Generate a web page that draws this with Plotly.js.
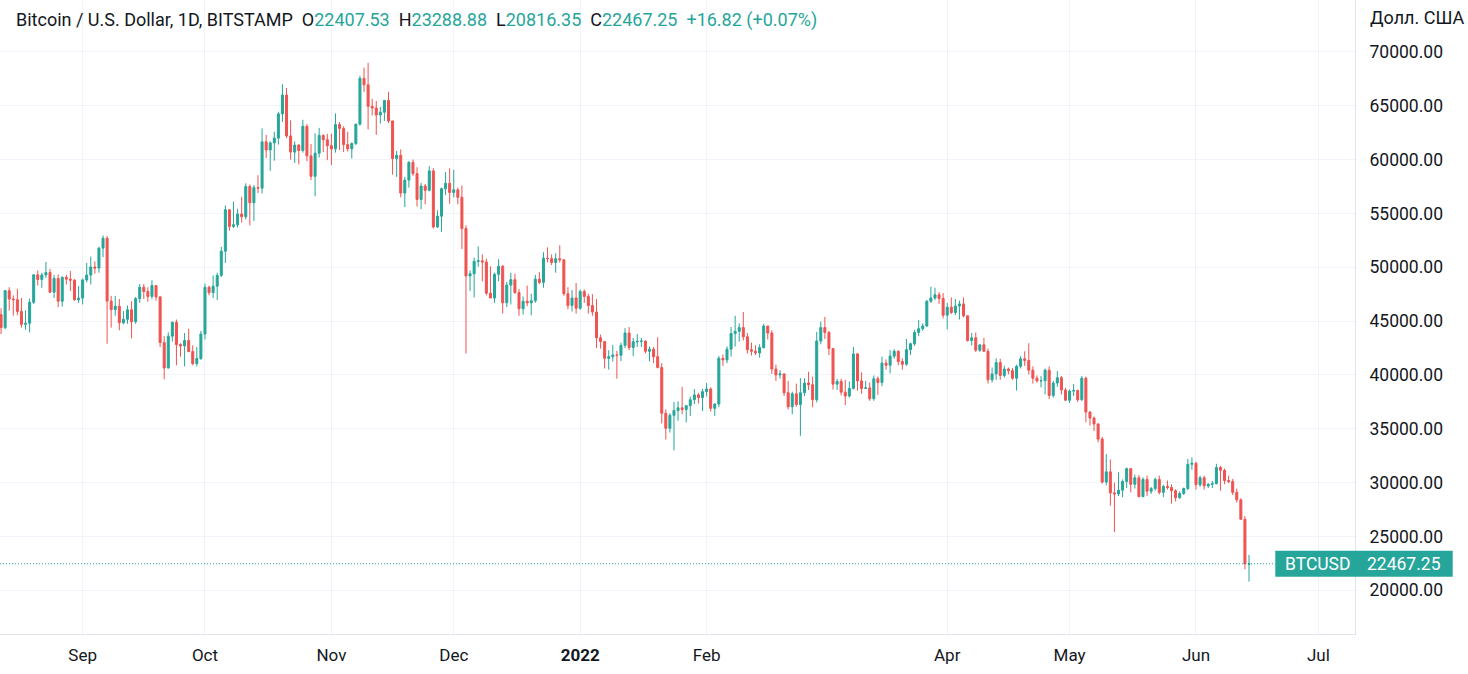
<!DOCTYPE html>
<html><head><meta charset="utf-8">
<script src="https://cdn.plot.ly/plotly-3.0.1.min.js"></script>
<style>html,body{margin:0;padding:0;background:#fff;overflow:hidden}</style>
</head><body>
<div id="chart" style="width:1468px;height:674px"></div>
<script>
// ---- data (BTC/USD daily, Bitstamp), 2021-08-12 .. 2022-06-14 ----
const startDate = '2021-08-12';
const open = [
// Aug
45600,44400,47830,47050,46990,45900,44700,44800,46750,49300,48870,49290,49520,47690,48960,46850,49070,48900,48810,46980,
// Sep
47140,48830,49280,50030,49930,51780,52700,46860,46070,46390,44850,45170,46050,44950,47090,48150,47750,47300,48300,47250,43010,40650,43600,44900,42820,42700,43200,42180,41050,41530,
// Oct
43800,48150,47650,48250,49250,51500,55350,53800,53950,54950,54700,57500,56000,57400,57350,61650,60900,61550,62000,64250,66000,62200,60700,61350,60850,63100,60350,58450,60600,62250,61850,
// Nov
61300,61000,63250,62900,61400,61000,61500,63300,67550,66950,64950,64800,64150,64400,65500,63600,60100,60400,56900,58100,59750,58700,56300,57550,57150,58950,53750,54750,57300,57800,
// Dec
56950,57200,56500,53600,49200,49400,50550,50600,50500,47600,47150,49350,50100,46700,48350,48850,47650,46150,46850,46700,46900,48900,48600,50850,50800,50450,50800,50700,47550,46450,47150,
// Jan
46200,47750,47300,46450,45850,43450,43100,41550,41700,41850,41830,42750,43900,42550,43080,43120,43150,42200,42400,41700,40700,36450,35050,36250,36700,36950,36800,37150,37700,38150,37900,
// Feb
38450,38700,36900,37300,41550,41400,42400,43850,44050,44400,43550,42350,42200,42050,42550,44550,43900,40550,40000,40100,38350,37050,38250,37250,38350,39250,39100,37700,
// Mar
43150,44400,43950,42450,39150,39400,38400,38050,38750,41950,39450,38750,38800,37800,39650,39300,41100,40900,41750,42200,41250,41000,42350,42900,43950,44300,44550,46850,47150,47450,47100,
// Apr
45550,46300,45800,46400,46600,45500,43200,43450,42300,42800,42200,39550,40100,41150,39950,40550,40400,39700,40800,41500,41350,40450,39700,39450,39470,40450,38100,39250,39750,38600,
// May
37650,38500,38550,37700,39700,36550,36000,35450,34050,30050,31000,29050,28950,29300,30100,31300,29850,30450,28700,30300,29200,29450,30300,29100,29650,29550,29250,28600,29000,29450,31700,
// Jun
31800,29800,30450,29700,29850,29900,31400,31150,30200,30100,29100,28400,26600,22407.53
];
const high = [
46200,47900,48150,47400,48000,47150,46000,47100,49350,49700,49500,50500,49850,49300,49350,49150,49300,49650,48900,48250,
48950,50400,51000,50550,51900,52950,52900,47350,47350,47050,45950,46450,46850,47250,48450,48450,48150,48800,48350,47350,43600,43950,44950,45150,42950,43900,44300,42750,42600,44100,
48500,48300,49250,49500,51900,55750,55350,56100,55450,56550,57800,57700,57650,58550,62900,62300,61700,62600,64450,67000,66650,63650,61700,61450,63700,63300,61450,62450,62950,62350,62400,
62400,64300,63500,63100,62600,61600,63300,67800,68550,69000,65650,65450,64900,65550,66300,63600,60800,60950,58400,59850,60000,59300,57850,57750,59400,59200,55300,57400,58850,59200,
59050,57400,57600,53900,49700,50900,51950,51200,50800,50100,49500,50750,50200,48650,49500,49400,48000,47300,48300,47550,49300,49550,51400,51850,51200,51300,52050,50700,48150,47900,48550,
47950,47950,47550,47500,47050,43750,43150,42300,42800,42250,43000,44350,44450,43450,43800,43450,43200,42650,42600,43500,41100,36800,36450,37500,37550,38900,37200,38000,38700,38350,38700,
39250,38850,37350,41750,41900,42650,44450,45500,44800,45850,43900,43000,42750,42850,44750,44550,44150,40950,40450,40150,39450,38450,39200,39700,39700,40300,39850,44000,
44950,45400,44100,42500,39650,39650,39550,39400,42600,42050,40250,39450,39300,39950,39850,41700,41450,42300,42400,42300,41550,43350,43000,44200,45100,44800,46950,48200,48100,47700,47600,
46700,47200,47050,46900,47200,45500,43900,43950,42800,43450,42450,40700,41550,41500,40850,40700,40650,40950,41750,42200,42950,40800,39950,39900,40600,40800,39450,40350,39900,38800,
38650,39150,38650,39900,39850,36650,36150,35500,34250,32650,32150,30000,30950,30300,31400,31300,30750,30700,30500,30650,29600,30450,30650,29800,30200,29850,29400,29200,29550,32200,32350,
31950,30650,30650,29950,30150,31750,31550,31300,30650,30350,29450,28550,26900,23288.88
];
const low = [
43800,44250,45970,45500,45550,44400,44200,43950,46600,48300,48100,49000,47600,47150,46300,46350,48400,47800,46900,46700,
46550,48600,48400,49400,49500,50950,42900,44400,45500,44150,44700,44750,43400,44750,46700,47050,46800,47050,46900,42600,39600,40600,43100,40900,41700,40800,42100,40900,40800,41400,
43300,47400,47150,46950,49100,50400,53400,53650,53700,54150,54450,53900,54300,56900,56850,60150,58950,59900,61400,63500,62000,60000,59700,59550,60650,59850,58100,56600,60200,60700,59950,
59500,60650,60900,60700,60750,60100,61350,63150,66300,62800,64100,62300,63350,63600,63400,58600,58400,56500,55600,57400,58500,55650,55400,55850,57050,53600,53650,53300,56700,55900,
56500,55850,51700,42000,47800,47200,50050,48700,47400,47300,46700,48700,45700,46300,46550,47550,45500,45600,46400,45550,46700,48450,48100,50450,50200,49500,50450,47350,46100,45900,45700,
46050,46700,45700,45500,42500,42450,40600,40500,41250,39650,41300,42500,42300,41750,42600,42600,42000,41250,41100,40600,35500,34000,34650,33000,35750,36350,35600,36200,37300,37350,36650,
38000,36600,36200,37000,40850,41100,41700,42650,43100,43200,42000,41800,41850,41600,42450,43300,40100,39450,39650,38050,36800,36350,37050,34350,38050,38600,37000,37450,
42850,43350,41850,38650,38600,38100,37200,37900,38650,38550,38250,38700,37600,37600,38150,38950,40500,40150,41500,40900,40500,40850,41850,42700,43600,44100,44450,46700,46950,46600,45250,
44250,45650,45550,45150,45350,43100,42750,42150,42150,42150,39200,39300,39550,39550,39750,40050,39550,38550,40600,40850,40050,39200,39300,38850,38200,37750,37900,38900,38200,37600,
37400,38050,37500,37600,35600,35300,34800,33750,29900,29750,27850,25400,28750,28650,29500,29100,29450,28650,28650,28750,28950,29250,28900,28650,29350,28050,28250,28500,28850,29300,31200,
29350,29600,29350,29500,29500,29850,29250,29850,29950,28850,28150,26550,21950,20816.35
];
const close = [
44400,47830,47050,46990,45900,44700,44800,46750,49300,48870,49290,49520,47690,48960,46850,49070,48900,48810,46980,47140,
48830,49280,50030,49930,51780,52700,46860,46070,46390,44850,45170,46050,44950,47090,48150,47750,47300,48300,47250,43010,40650,43600,44900,42820,42700,43200,42180,41050,41530,43800,
48150,47650,48250,49250,51500,55350,53800,53950,54950,54700,57500,56000,57400,57350,61650,60900,61550,62000,64250,66000,62200,60700,61350,60850,63100,60350,58450,60600,62250,61850,61300,
61000,63250,62900,61400,61000,61500,63300,67550,66950,64950,64800,64150,64400,65500,63600,60100,60400,56900,58100,59750,58700,56300,57550,57150,58950,53750,54750,57300,57800,56950,
57200,56500,53600,49200,49400,50550,50600,50500,47600,47150,49350,50100,46700,48350,48850,47650,46150,46850,46700,46900,48900,48600,50850,50800,50450,50800,50700,47550,46450,47150,46200,
47750,47300,46450,45850,43450,43100,41550,41700,41850,41830,42750,43900,42550,43080,43120,43150,42200,42400,41700,40700,36450,35050,36250,36700,36950,36800,37150,37700,38150,37900,38450,
38700,36900,37300,41550,41400,42400,43850,44050,44400,43550,42350,42200,42050,42550,44550,43900,40550,40000,40100,38350,37050,38250,37250,38350,39250,39100,37700,43150,
44400,43950,42450,39150,39400,38400,38050,38750,41950,39450,38750,38800,37800,39650,39300,41100,40900,41750,42200,41250,41000,42350,42900,43950,44300,44550,46850,47150,47450,47100,45550,
46300,45800,46400,46600,45500,43200,43450,42300,42800,42200,39550,40100,41150,39950,40550,40400,39700,40800,41500,41350,40450,39700,39450,39470,40450,38100,39250,39750,38600,37650,
38500,38550,37700,39700,36550,36000,35450,34050,30050,31000,29050,28950,29300,30100,31300,29850,30450,28700,30300,29200,29450,30300,29100,29650,29550,29250,28600,29000,29450,31700,31800,
29800,30450,29700,29850,29900,31400,31150,30200,30100,29100,28400,26600,22450.43,22467.25
];
const tickDates = ['2021-09-01','2021-10-01','2021-11-01','2021-12-01','2022-01-01','2022-02-01','2022-04-01','2022-05-01','2022-06-01','2022-07-01'];
const tickLabels = ['Sep','Oct','Nov','Dec','<b>2022</b>','Feb','Apr','May','Jun','Jul'];
const priceTicks = [20000,25000,30000,35000,40000,45000,50000,55000,60000,65000,70000];
const symbol = 'BTCUSD';
const titleText = 'Bitcoin / U.S. Dollar, 1D, BITSTAMP';
const currencyText = 'Долл. США';

// ---- build ----
const UP = '#26a69a', DOWN = '#ef5350', TXT = '#131722';
const FONT = 'Roboto, "Noto Sans", sans-serif';
const start = new Date(startDate + 'T00:00:00Z');
const dates = open.map((_, i) => new Date(start.getTime() + i * 86400000).toISOString().slice(0, 10));

const W = 1468, H = 674, ML = 0, MR = 113, MT = 0, MB = 40;
const PW = W - ML - MR, PH = H - MT - MB;
const px = v => v / PW;          // horizontal pixel -> paper
const py = v => 1 - v / PH;      // vertical pixel -> paper

const n = close.length;
const lastO = open[n-1], lastH = high[n-1], lastL = low[n-1], lastC = close[n-1];
const chg = lastC - close[n-2];
const pct = chg / close[n-2] * 100;
const f2 = v => v.toFixed(2);
const col = s => `<span style="color:${UP}">${s}</span>`;
const sp = '&nbsp;&nbsp;';
const header = `${titleText}${sp}O${col(f2(lastO))}${sp}H${col(f2(lastH))}${sp}L${col(f2(lastL))}${sp}C${col(f2(lastC))}${sp}${col((chg>=0?'+':'') + f2(chg) + ' (' + (pct>=0?'+':'') + f2(pct) + '%)')}`;

const trace = {
  type: 'candlestick', x: dates, open, high, low, close,
  increasing: {line: {color: UP, width: 1}, fillcolor: UP},
  decreasing: {line: {color: DOWN, width: 1}, fillcolor: DOWN},
  whiskerwidth: 0, hoverinfo: 'skip', showlegend: false
};

const layout = {
  width: W, height: H, margin: {l: ML, r: MR, t: MT, b: MB},
  paper_bgcolor: '#ffffff', plot_bgcolor: '#ffffff',
  font: {family: FONT, size: 17, color: TXT},
  showlegend: false, dragmode: false,
  xaxis: {
    type: 'date', range: ['2021-08-11 17:45', '2022-07-09 23:45'],
    tickmode: 'array', tickvals: tickDates, ticktext: tickLabels,
    showgrid: true, gridcolor: '#f0f3fa', gridwidth: 1,
    showline: true, linecolor: '#e0e3eb', linewidth: 1,
    ticks: 'outside', ticklen: 6, tickcolor: 'rgba(0,0,0,0)',
    tickfont: {family: FONT, size: 17, color: TXT},
    zeroline: false, rangeslider: {visible: false}, fixedrange: true
  },
  yaxis: {
    side: 'right', range: [15942, 74827],
    tickmode: 'array', tickvals: priceTicks, tickformat: '.2f',
    showgrid: true, gridcolor: '#f0f3fa', gridwidth: 1,
    showline: true, linecolor: '#e0e3eb', linewidth: 1,
    ticks: 'outside', ticklen: 10, tickcolor: 'rgba(0,0,0,0)',
    tickfont: {family: FONT, size: 17.5, color: TXT},
    zeroline: false, fixedrange: true
  },
  shapes: [
    {type: 'line', xref: 'paper', yref: 'y', x0: 0, x1: px(1275.3), y0: lastC, y1: lastC,
     line: {color: UP, width: 1, dash: '1px,2px'}},
    {type: 'rect', xref: 'paper', yref: 'y', x0: px(1275.3), x1: px(1452.7),
     ysizemode: 'pixel', yanchor: lastC, y0: -13, y1: 13,
     fillcolor: UP, line: {width: 0}, layer: 'above'}
  ],
  annotations: [
    {xref: 'paper', yref: 'paper', x: px(14), y: py(20), xanchor: 'left', yanchor: 'middle',
     text: header, showarrow: false, font: {family: FONT, size: 18, color: TXT}},
    {xref: 'paper', yref: 'paper', x: px(1368), y: py(17), xanchor: 'left', yanchor: 'middle',
     text: currencyText, showarrow: false, font: {family: FONT, size: 18, color: TXT}},
    {xref: 'paper', yref: 'y', x: px(1283), y: lastC, xanchor: 'left', yanchor: 'middle',
     text: symbol, showarrow: false, font: {family: FONT, size: 17.5, color: '#ffffff'}},
    {xref: 'paper', yref: 'y', x: px(1443), y: lastC, xanchor: 'right', yanchor: 'middle',
     text: f2(lastC), showarrow: false, font: {family: FONT, size: 17.5, color: '#ffffff'}}
  ]
};

Plotly.newPlot('chart', [trace], layout, {staticPlot: true, displayModeBar: false});
</script>
</body></html>
